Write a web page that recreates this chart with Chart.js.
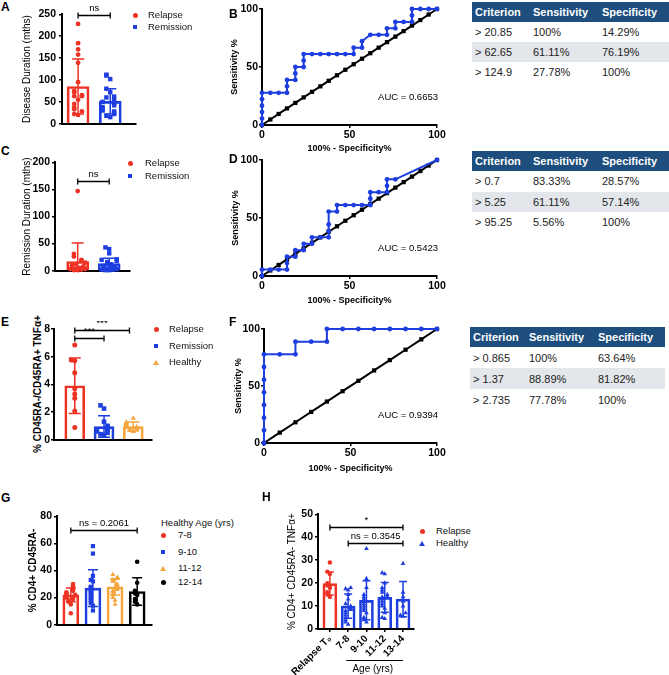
<!DOCTYPE html>
<html>
<head>
<meta charset="utf-8">
<title>Relapse markers</title>
<script src="https://cdn.jsdelivr.net/npm/chart.js@4.4.1/dist/chart.umd.min.js"></script>
<style>
  body { margin: 0; background: #fff; font-family: "Liberation Sans", Arial, sans-serif; color: #000; }
  #page { position: relative; width: 669px; height: 675px; overflow: hidden; }
  #page canvas { position: absolute; }
  .letter { position: absolute; font-size: 12px; font-weight: bold; line-height: 14px; }
  .legend-text { position: absolute; font-size: 9.5px; line-height: 12px; white-space: nowrap; color: #111; }
  .axis-title { position: absolute; font-size: 9px; font-weight: bold; line-height: 11px; white-space: nowrap; transform: translate(-50%, -50%); z-index: 5; }
  .axis-title.vertical { font-size: 10px; line-height: 12px; transform: translate(-50%, -50%) rotate(-90deg); }
  .marker { position: absolute; }
  table.crit { position: absolute; border-collapse: collapse; font-size: 11px; table-layout: fixed; }
  table.crit th { background: #1d4e7d; color: #fff; text-align: left; font-weight: bold; padding: 0 0 0 3px; }
  table.crit td { padding: 0 0 0 3px; color: #222; }
  table.crit tr.shade td { background: #e3e6ea; }
</style>
</head>
<body>
<div id="page"></div>
<script>
const RED = "#ee3224";
const BLUE = "#1e3ee0";
const ORANGE = "#f6a43c";
const BLACK = "#000000";

// A: disease duration (mths)
const groupsAC = ["Relapse", "Remission"];
const durationRelapse = [228, 184, 170, 158, 139, 95, 75, 72, 65, 63, 63, 55, 45, 37, 33, 28, 22, 20];
const durationRemission = [112, 110, 102, 80, 72, 62, 60, 55, 50, 48, 45, 42, 38, 35, 32, 30, 28, 25, 22, 18, 15];
const durationMean = [85, 51];
const durationSd = [63, 29];
const durationP = ["ns"];

// C: remission duration (mths)
const remissionRelapse = [147, 31, 26, 20, 18, 15, 12, 10, 9, 8, 6, 5, 4, 3, 3, 2, 1, 1];
const remissionRemission = [43, 40, 32, 21, 20, 18, 16, 14, 12, 11, 10, 9, 8, 6, 5, 4, 3, 2, 2, 1, 1];
const remissionMean = [17, 13];
const remissionSd = [34, 10];
const remissionP = ["ns"];

// E: % CD45RA-/CD45RA+ TNFa+
const groupsE = ["Relapse", "Remission", "Healthy"];
const ratioRelapse = [6.84, 5.76, 5.7, 4.84, 3.69, 3.3, 3.0, 2.07, 0.88];
const ratioRemission = [2.48, 2.25, 1.3, 1.0, 0.9, 0.8, 0.7, 0.6, 0.5, 0.4, 0.35];
const ratioHealthy = [1.55, 1.25, 1.2, 1.1, 1.0, 0.95, 0.9, 0.8, 0.7, 0.6];
const ratioMean = [3.9, 0.95, 0.95];
const ratioSd = [2.0, 0.78, 0.33];
const ratioP = ["***", "***"];

// G: % CD4+ CD45RA- by healthy age
const ageGroupsG = ["7-8", "9-10", "11-12", "12-14"];
const cd4Age78 = [30, 29, 28, 27, 26, 25, 24, 23, 22, 22, 21, 20, 20, 19, 18, 17, 15, 8.5];
const cd4Age910 = [58, 52.5, 36, 33, 32, 28, 27, 25, 24, 22, 20, 18, 16, 14, 10.5];
const cd4Age1112 = [37, 35, 34, 33, 32, 30, 29, 28, 27, 26, 25, 24, 22, 20, 18, 15];
const cd4Age1214 = [46.5, 31, 25, 23, 22, 19, 17, 15];
const cd4Mean = [22, 27, 28, 24.5];
const cd4Sd = [5, 13.5, 6, 10.2];
const cd4P = ["ns = 0.2061"];

// H: % CD4+ CD45RA- TNFa+
const groupsH = ["Relapse T₀", "7-8", "9-10", "11-12", "13-14"];
const legendH = ["Relapse", "Healthy"];
const tnfRelapse = [29, 25, 24, 20, 19, 18, 16, 15, 14];
const tnfAge78 = [18, 17.5, 17, 15, 13, 11, 10, 9, 8.5, 8, 7, 6, 5, 4, 3, 2];
const tnfAge910 = [35, 22, 18, 15, 14, 13, 12, 11, 10, 9, 8, 7, 5, 4, 3];
const tnfAge1112 = [24.5, 24, 20, 18, 17, 16, 15, 14, 14, 13, 12, 11, 10, 9, 7, 5, 4.5];
const tnfAge1314 = [28.5, 16, 14, 12, 10, 7, 6, 5.5];
const tnfMean = [19.8, 10, 12.5, 13.8, 13];
const tnfSd = [5, 5.3, 8.5, 6.5, 7.7];
const tnfP = ["*", "ns = 0.3545"];
const ageAxisTitle = "Age (yrs)";

// ROC curves (100% - specificity, sensitivity)
const rocDurationFpr = [0, 0, 0, 0, 0, 0, 4.76, 9.52, 14.29, 14.29, 14.29, 19.05, 19.05, 19.05, 23.81, 23.81, 23.81, 28.57, 33.33, 38.1, 42.86, 47.62, 52.38, 52.38, 57.14, 57.14, 61.9, 66.67, 71.43, 71.43, 76.19, 76.19, 80.95, 85.71, 85.71, 85.71, 90.48, 95.24, 100];
const rocDurationTpr = [0, 5.56, 11.11, 16.67, 22.22, 27.78, 27.78, 27.78, 27.78, 33.33, 38.89, 38.89, 44.44, 50, 50, 55.56, 61.11, 61.11, 61.11, 61.11, 61.11, 61.11, 61.11, 66.67, 66.67, 72.22, 77.78, 77.78, 77.78, 83.33, 83.33, 88.89, 88.89, 88.89, 94.44, 100, 100, 100, 100];
const rocRemissionFpr = [0, 0, 4.76, 9.52, 14.29, 14.29, 14.29, 19.05, 19.05, 23.81, 23.81, 28.57, 28.57, 33.33, 38.1, 38.1, 38.1, 38.1, 42.86, 42.86, 47.62, 52.38, 57.14, 61.9, 61.9, 61.9, 66.67, 71.43, 71.43, 71.43, 76.19, 100];
const rocRemissionTpr = [0, 5.56, 5.56, 5.56, 5.56, 11.11, 16.67, 16.67, 22.22, 22.22, 27.78, 27.78, 33.33, 33.33, 33.33, 38.89, 44.44, 55.56, 55.56, 61.11, 61.11, 61.11, 61.11, 61.11, 66.67, 72.22, 72.22, 72.22, 77.78, 83.33, 83.33, 100];
const rocRatioFpr = [0, 0, 0, 0, 0, 0, 0, 0, 9.09, 18.18, 18.18, 27.27, 36.36, 36.36, 45.45, 54.55, 63.64, 72.73, 81.82, 90.91, 100];
const rocRatioTpr = [0, 11.11, 22.22, 33.33, 44.44, 55.56, 66.67, 77.78, 77.78, 77.78, 88.89, 88.89, 88.89, 100, 100, 100, 100, 100, 100, 100, 100];
const chance21 = [0, 4.76, 9.52, 14.29, 19.05, 23.81, 28.57, 33.33, 38.1, 42.86, 47.62, 52.38, 57.14, 61.9, 66.67, 71.43, 76.19, 80.95, 85.71, 90.48, 95.24, 100];
const chance11 = [0, 9.09, 18.18, 27.27, 36.36, 45.45, 54.55, 63.64, 72.73, 81.82, 90.91, 100];
const aucValues = ["0.6653", "0.5423", "0.9394"];
const rocXTitle = "100% - Specificity%";
const rocYTitle = "Sensitivity %";

// criterion tables
const criterionHeader = ["Criterion", "Sensitivity", "Specificity"];
const criterionDuration = [["> 20.85", "100%", "14.29%"], ["> 62.65", "61.11%", "76.19%"], ["> 124.9", "27.78%", "100%"]];
const criterionRemission = [["> 0.7", "83.33%", "28.57%"], ["> 5.25", "61.11%", "57.14%"], ["> 95.25", "5.56%", "100%"]];
const criterionRatio = [["> 0.865", "100%", "63.64%"], ["> 1.37", "88.89%", "81.82%"], ["> 2.735", "77.78%", "100%"]];

Chart.defaults.font.family = "'Liberation Sans', Arial, sans-serif";
Chart.defaults.color = "#000";

const page = document.getElementById("page");
const FONT = "'Liberation Sans', Arial, sans-serif";
const TICK_FONT = { size: 10.5, weight: "bold" };

function addCanvas(left, top, width, height) {
  const canvas = document.createElement("canvas");
  canvas.width = width;
  canvas.height = height;
  canvas.style.left = left + "px";
  canvas.style.top = top + "px";
  canvas.style.width = width + "px";
  canvas.style.height = height + "px";
  page.appendChild(canvas);
  return canvas;
}

// deterministic horizontal spread for overlapping dots
function spread(values, step, tol) {
  const order = values.map((v, i) => i).sort((a, b) => values[a] - values[b]);
  const pattern = [0, -1, 1, -2, 2, -0.5, 0.5, -1.5, 1.5];
  const offsets = new Array(values.length).fill(0);
  order.forEach((i, k) => {
    let n = 0;
    for (let j = 0; j < k; j++) {
      if (Math.abs(values[order[j]] - values[i]) < tol) n++;
    }
    offsets[i] = pattern[n % pattern.length] * step;
  });
  return offsets;
}

function radiusFor(shape, base) {
  if (shape === "rect") return base * 1.3;
  if (shape === "triangle") return base * 1.25;
  return base;
}

function statsPlugin(means, sds, colors, capHalf, brackets) {
  return {
    id: "stats",
    afterDatasetsDraw(chart) {
      const { ctx, chartArea, scales: { x, y } } = chart;
      ctx.save();
      ctx.beginPath();
      ctx.rect(0, 0, chart.width, chartArea.bottom);
      ctx.clip();
      ctx.lineWidth = 1.5;
      means.forEach((m, i) => {
        const cx = x.getPixelForValue(i);
        const hi = y.getPixelForValue(m + sds[i]);
        const lo = y.getPixelForValue(m - sds[i]);
        ctx.strokeStyle = colors[i];
        ctx.beginPath();
        ctx.moveTo(cx, hi);
        ctx.lineTo(cx, lo);
        ctx.moveTo(cx - capHalf, hi);
        ctx.lineTo(cx + capHalf, hi);
        ctx.moveTo(cx - capHalf, lo);
        ctx.lineTo(cx + capHalf, lo);
        ctx.stroke();
      });
      ctx.restore();

      ctx.save();
      ctx.strokeStyle = "#000";
      ctx.fillStyle = "#000";
      ctx.lineWidth = 1.3;
      ctx.font = "9.5px " + FONT;
      ctx.textAlign = "center";
      ctx.textBaseline = "bottom";
      brackets.forEach((b) => {
        const x1 = x.getPixelForValue(b.from);
        const x2 = x.getPixelForValue(b.to);
        const yy = Math.round(y.getPixelForValue(b.at)) + 0.5;
        ctx.beginPath();
        ctx.moveTo(x1, yy);
        ctx.lineTo(x2, yy);
        ctx.moveTo(x1, yy - 3);
        ctx.lineTo(x1, yy + 3);
        ctx.moveTo(x2, yy - 3);
        ctx.lineTo(x2, yy + 3);
        ctx.stroke();
        ctx.fillText(b.text, (x1 + x2) / 2, yy - 2);
      });
      ctx.restore();
    },
  };
}

function valueAxis(min, max, step, width, title, titleFont, tickGap) {
  return {
    type: "linear",
    min,
    max,
    border: { color: "#000", width: 2 },
    grid: { drawOnChartArea: false, color: "#000", lineWidth: 1.5, tickLength: 3 },
    ticks: { stepSize: step, padding: tickGap, color: "#000", font: TICK_FONT },
    title: { display: !!title, text: title || "", color: "#000", font: titleFont, padding: { top: 4, bottom: 4 } },
    afterFit(scale) {
      scale.width = width;
    },
  };
}

function barPanel(cfg) {
  const canvas = addCanvas(...cfg.box);
  const datasets = cfg.groups.map((values, g) => {
    const offsets = spread(values, cfg.jitter, cfg.yMax / 28);
    return {
      type: "scatter",
      data: values.map((v, i) => ({ x: g + offsets[i], y: v })),
      pointStyle: cfg.shapes[g],
      pointRadius: radiusFor(cfg.shapes[g], cfg.radius),
      pointBorderWidth: 0,
      backgroundColor: cfg.colors[g],
      borderColor: cfg.colors[g],
      order: 1,
      clip: false,
    };
  });
  datasets.push({
    type: "bar",
    data: cfg.means.map((m, g) => ({ x: g, y: m })),
    backgroundColor: "rgba(255,255,255,0)",
    borderColor: cfg.colors,
    borderWidth: 2,
    barThickness: cfg.barWidth,
    order: 2,
  });

  const xLabels = cfg.xLabels;
  const plugins = [statsPlugin(cfg.means, cfg.sds, cfg.colors, cfg.capHalf, cfg.brackets)];
  if (cfg.extraPlugin) plugins.push(cfg.extraPlugin);

  const chart = new Chart(canvas, {
    type: "bar",
    data: { datasets },
    options: {
      responsive: false,
      animation: false,
      events: [],
      devicePixelRatio: 1,
      layout: { padding: { top: cfg.padTop ?? 8, right: 3, bottom: 0, left: 0 } },
      plugins: { legend: { display: false }, tooltip: { enabled: false } },
      scales: {
        x: {
          type: "linear",
          min: cfg.xRange[0],
          max: cfg.xRange[1],
          offset: false,
          border: { color: "#000", width: 2 },
          grid: { display: !!xLabels, drawOnChartArea: false, offset: false, color: "#000", lineWidth: 1.5, tickLength: 3 },
          ticks: xLabels
            ? {
                display: true,
                stepSize: 1,
                includeBounds: false,
                autoSkip: false,
                minRotation: 45,
                maxRotation: 45,
                padding: 1,
                color: "#000",
                font: { size: 10, weight: "bold" },
                callback: (v) => xLabels[v] ?? "",
              }
            : { display: false },
          afterFit(scale) {
            scale.height = cfg.xAxisHeight;
          },
        },
        y: valueAxis(0, cfg.yMax, cfg.yStep, cfg.yAxisWidth, cfg.htmlTitle ? null : cfg.yTitle, cfg.titleFont, cfg.tickGap),
      },
    },
    plugins,
  });

  // long titles would be squeezed to the plot height by the scale, so set them as a rotated label
  if (cfg.htmlTitle) {
    const area = chart.chartArea;
    const t = document.createElement("div");
    t.className = "axis-title vertical";
    t.textContent = cfg.yTitle;
    t.style.left = cfg.htmlTitle + "px";
    t.style.top = cfg.box[1] + (area.top + area.bottom) / 2 + "px";
    page.appendChild(t);
  }
  return chart;
}

function aucPlugin(auc) {
  return {
    id: "auc",
    afterDraw(chart) {
      const { ctx, chartArea, scales: { y } } = chart;
      ctx.save();
      ctx.fillStyle = "#000";
      ctx.font = "9.5px " + FONT;
      ctx.textAlign = "right";
      ctx.textBaseline = "middle";
      ctx.fillText("AUC = " + auc, chartArea.right + 1, y.getPixelForValue(24));
      ctx.restore();
    },
  };
}

function rocPanel(cfg) {
  const canvas = addCanvas(...cfg.box);
  const titleFont = { size: 9, weight: "bold" };
  const axisBase = {
    type: "linear",
    min: 0,
    max: 100,
    border: { color: "#000", width: 2 },
    grid: { drawOnChartArea: false, color: "#000", lineWidth: 1.5, tickLength: 3 },
  };
  const chart = new Chart(canvas, {
    type: "scatter",
    data: {
      datasets: [
        {
          data: cfg.fpr.map((x, i) => ({ x, y: cfg.tpr[i] })),
          showLine: true,
          borderColor: BLUE,
          backgroundColor: BLUE,
          borderWidth: 2,
          pointRadius: 2.4,
          pointBorderWidth: 0,
          clip: false,
        },
        {
          data: cfg.chance.map((v) => ({ x: v, y: v })),
          showLine: true,
          borderColor: BLACK,
          backgroundColor: BLACK,
          borderWidth: 2,
          pointStyle: "rect",
          pointRadius: 3,
          pointBorderWidth: 0,
          clip: false,
        },
      ],
    },
    options: {
      responsive: false,
      animation: false,
      events: [],
      devicePixelRatio: 1,
      layout: { padding: { top: 9, right: 10, bottom: 0, left: 0 } },
      plugins: { legend: { display: false }, tooltip: { enabled: false } },
      scales: {
        x: {
          ...axisBase,
          ticks: { stepSize: 50, padding: 1, maxRotation: 0, color: "#000", font: TICK_FONT },
          afterFit(scale) {
            scale.height = cfg.xAxisHeight;
          },
        },
        y: {
          ...axisBase,
          ticks: { stepSize: 50, padding: 1, color: "#000", font: TICK_FONT },
          title: { display: true, text: rocYTitle, color: "#000", font: titleFont, padding: { top: 4, bottom: 4 } },
          afterFit(scale) {
            scale.width = cfg.yAxisWidth;
          },
        },
      },
    },
    plugins: [aucPlugin(cfg.auc)],
  });

  // x title centred under the plot area, placed from the chart's own layout
  const area = chart.chartArea;
  const t = document.createElement("div");
  t.className = "axis-title";
  t.textContent = rocXTitle;
  t.style.left = cfg.box[0] + (area.left + area.right) / 2 + "px";
  t.style.top = cfg.box[1] + area.bottom + cfg.titleGap + "px";
  page.appendChild(t);
  return chart;
}

function criterionTable(rows, left, top, colWidths, headH, rowH) {
  const table = document.createElement("table");
  table.className = "crit";
  table.style.left = left + "px";
  table.style.top = top + "px";
  table.style.width = colWidths.reduce((a, b) => a + b, 0) + "px";
  const colgroup = document.createElement("colgroup");
  colWidths.forEach((w) => {
    const col = document.createElement("col");
    col.style.width = w + "px";
    colgroup.appendChild(col);
  });
  table.appendChild(colgroup);
  const head = document.createElement("tr");
  head.style.height = headH + "px";
  criterionHeader.forEach((h) => {
    const th = document.createElement("th");
    th.textContent = h;
    head.appendChild(th);
  });
  table.appendChild(head);
  rows.forEach((row, i) => {
    const tr = document.createElement("tr");
    tr.style.height = rowH + "px";
    if (i === 1) tr.className = "shade";
    row.forEach((cell) => {
      const td = document.createElement("td");
      td.textContent = cell;
      tr.appendChild(td);
    });
    table.appendChild(tr);
  });
  page.appendChild(table);
}

function legend(names, colors, shapes, markerX, textX, ys) {
  names.forEach((name, i) => {
    const m = document.createElement("div");
    m.className = "marker";
    if (shapes[i] === "triangle") {
      m.style.left = markerX - 3 + "px";
      m.style.top = ys[i] - 2.5 + "px";
      m.style.width = "0px";
      m.style.height = "0px";
      m.style.borderLeft = "3px solid transparent";
      m.style.borderRight = "3px solid transparent";
      m.style.borderBottom = "5px solid " + colors[i];
    } else {
      const s = shapes[i] === "rect" ? 4.5 : 5;
      m.style.left = markerX - s / 2 + "px";
      m.style.top = ys[i] - s / 2 + "px";
      m.style.width = s + "px";
      m.style.height = s + "px";
      m.style.background = colors[i];
      if (shapes[i] === "circle") m.style.borderRadius = "50%";
    }
    page.appendChild(m);
    const t = document.createElement("div");
    t.className = "legend-text";
    t.textContent = name;
    t.style.left = textX + "px";
    t.style.top = ys[i] - 6 + "px";
    page.appendChild(t);
  });
}

function label(text, left, top, cls) {
  const d = document.createElement("div");
  d.className = cls;
  d.textContent = text;
  d.style.left = left + "px";
  d.style.top = top + "px";
  page.appendChild(d);
}

const ageAxisPlugin = {
  id: "ageAxis",
  afterDraw(chart) {
    const { ctx, chartArea, scales: { x } } = chart;
    const x1 = x.getPixelForValue(0.9);
    const x2 = x.getPixelForValue(4);
    const yy = chartArea.bottom + 31.5;
    ctx.save();
    ctx.strokeStyle = "#000";
    ctx.lineWidth = 1;
    ctx.beginPath();
    ctx.moveTo(x1, yy);
    ctx.lineTo(x2, yy);
    ctx.stroke();
    ctx.fillStyle = "#000";
    ctx.font = "10px " + FONT;
    ctx.textAlign = "center";
    ctx.textBaseline = "middle";
    ctx.fillText(ageAxisTitle, (x1 + x2) / 2 - 2, yy + 9);
    ctx.restore();
  },
};

// panel A
barPanel({
  box: [17, 5, 123, 128],
  groups: [durationRelapse, durationRemission],
  means: durationMean,
  sds: durationSd,
  colors: [RED, BLUE],
  shapes: ["circle", "rect"],
  radius: 2.4,
  jitter: 0.12,
  barWidth: 22,
  capHalf: 6,
  xRange: [-0.5, 1.8],
  xAxisHeight: 3,
  yMax: 250,
  yStep: 50,
  yAxisWidth: 45,
  tickGap: 3,
  yTitle: "Disease Duration (mths)",
  titleFont: { size: 10 },
  brackets: [{ from: 0, to: 1, at: 248, text: durationP[0] }],
});

// panel C
barPanel({
  box: [17, 154, 117, 125],
  groups: [remissionRelapse, remissionRemission],
  means: remissionMean,
  sds: remissionSd,
  colors: [RED, BLUE],
  shapes: ["circle", "rect"],
  radius: 2.4,
  jitter: 0.12,
  barWidth: 22,
  capHalf: 6,
  xRange: [-0.72, 1.66],
  xAxisHeight: 2,
  yMax: 200,
  yStep: 50,
  yAxisWidth: 38,
  tickGap: 2,
  yTitle: "Remission Duration (mths)",
  titleFont: { size: 10 },
  brackets: [{ from: 0, to: 1, at: 165, text: remissionP[0] }],
});

// panel E
barPanel({
  box: [44, 321, 112, 126],
  groups: [ratioRelapse, ratioRemission, ratioHealthy],
  means: ratioMean,
  sds: ratioSd,
  colors: [RED, BLUE, ORANGE],
  shapes: ["circle", "rect", "triangle"],
  radius: 2.5,
  jitter: 0.12,
  barWidth: 20,
  capHalf: 6,
  xRange: [-0.71, 2.64],
  xAxisHeight: 2,
  yMax: 8,
  yStep: 2,
  yAxisWidth: 10,
  tickGap: 1,
  yTitle: "% CD45RA-/CD45RA+ TNFα+",
  htmlTitle: 38,
  brackets: [
    { from: 0, to: 1.87, at: 7.95, text: ratioP[0] },
    { from: 0, to: 1, at: 7.33, text: ratioP[1] },
  ],
});

// panel G
barPanel({
  box: [23, 508, 133, 125],
  groups: [cd4Age78, cd4Age910, cd4Age1112, cd4Age1214],
  means: cd4Mean,
  sds: cd4Sd,
  colors: [RED, BLUE, ORANGE, BLACK],
  shapes: ["circle", "rect", "triangle", "circle"],
  radius: 2.3,
  jitter: 0.1,
  barWidth: 16,
  capHalf: 5,
  xRange: [-0.625, 3.67],
  xAxisHeight: 2,
  yMax: 80,
  yStep: 20,
  yAxisWidth: 34,
  tickGap: 2,
  yTitle: "% CD4+ CD45RA-",
  titleFont: { size: 10, weight: "bold" },
  brackets: [{ from: 0, to: 3, at: 70, text: cd4P[0] }],
});

// panel H
barPanel({
  box: [282, 506, 136, 169],
  groups: [tnfRelapse, tnfAge78, tnfAge910, tnfAge1112, tnfAge1314],
  means: tnfMean,
  sds: tnfSd,
  colors: [RED, BLUE, BLUE, BLUE, BLUE],
  shapes: ["circle", "triangle", "triangle", "triangle", "triangle"],
  radius: 2.2,
  jitter: 0.14,
  barWidth: 14,
  capHalf: 4,
  xRange: [-0.65, 4.6],
  xAxisHeight: 46,
  xLabels: groupsH,
  yMax: 50,
  yStep: 10,
  yAxisWidth: 36,
  tickGap: 2,
  yTitle: "% CD4+ CD45RA- TNFα+",
  titleFont: { size: 10 },
  brackets: [
    { from: 0, to: 4, at: 44.6, text: tnfP[0] },
    { from: 1, to: 4, at: 37.7, text: tnfP[1] },
  ],
  extraPlugin: ageAxisPlugin,
});

// ROC panels B, D, F
rocPanel({ box: [225, 0, 222, 157], yAxisWidth: 37, xAxisHeight: 32, titleGap: 23, fpr: rocDurationFpr, tpr: rocDurationTpr, chance: chance21, auc: aucValues[0] });
rocPanel({ box: [226, 151, 221, 158], yAxisWidth: 36, xAxisHeight: 33, titleGap: 24, fpr: rocRemissionFpr, tpr: rocRemissionTpr, chance: chance21, auc: aucValues[1] });
rocPanel({ box: [229, 320, 218, 157], yAxisWidth: 35, xAxisHeight: 34, titleGap: 25, fpr: rocRatioFpr, tpr: rocRatioTpr, chance: chance11, auc: aucValues[2] });

// tables
criterionTable(criterionDuration, 472, 2, [58, 69, 70], 20, 20);
criterionTable(criterionRemission, 472, 151, [58, 69, 70], 20, 20.5);
criterionTable(criterionRatio, 470, 327, [56, 69, 70], 20, 21);

// legends
legend(groupsAC, [RED, BLUE], ["circle", "rect"], 135, 148, [15, 27]);
legend(groupsAC, [RED, BLUE], ["circle", "rect"], 130, 145, [163, 176]);
legend(groupsE, [RED, BLUE, ORANGE], ["circle", "rect", "triangle"], 156, 169, [329, 346, 362]);
label("Healthy Age (yrs)", 161, 517, "legend-text");
legend(ageGroupsG, [RED, BLUE, ORANGE, BLACK], ["circle", "rect", "triangle", "circle"], 163, 178, [535, 552, 568, 582]);
legend(legendH, [RED, BLUE], ["circle", "triangle"], 422, 436, [531, 543]);

// panel letters
[["A", 1, 0], ["B", 229, 7], ["C", 1, 144], ["D", 229, 152], ["E", 1, 315], ["F", 229, 315], ["G", 1, 491], ["H", 262, 490]].forEach(([t, l, tp]) => label(t, l, tp, "letter"));
</script>
</body>
</html>
